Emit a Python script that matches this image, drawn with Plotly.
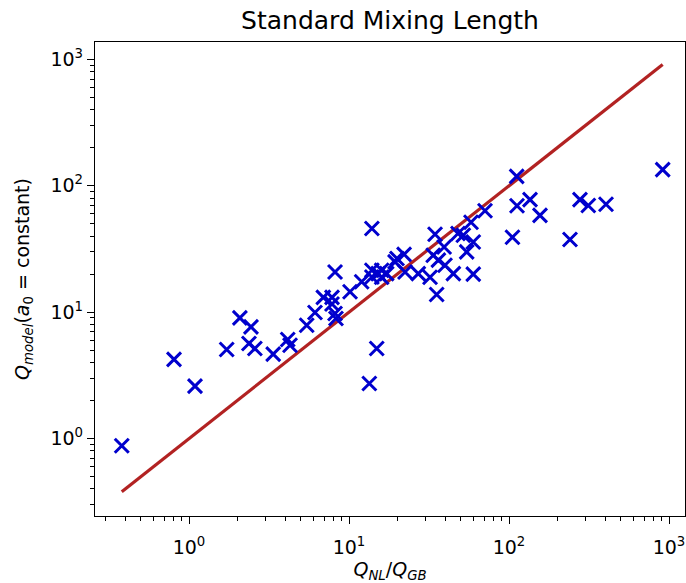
import plotly.graph_objects as go

# Q_NL / Q_GB (x) and Q_model (y)
q_nl = [0.380, 0.806, 1.09, 1.72, 2.08, 2.44, 2.37, 2.58, 3.36, 4.14,
        4.28, 5.44, 6.13, 6.91, 7.83, 7.83, 8.18, 8.29, 8.18, 10.15,
        12.0, 13.9, 13.9, 13.9, 15.2, 16.0, 17.2, 16.0, 19.4, 22.1,
        22.4, 27.1, 32.1, 33.6, 34.5, 36.2, 35.3, 39.3, 39.8, 44.9,
        48.0, 51.8, 54.4, 57.9, 59.8, 59.8, 70.8, 14.9, 13.4, 111.7,
        913.0, 112.2, 135.3, 156.2, 105.1, 240.5, 277.7, 313.1, 403.9, 19.95]
q_model = [0.877, 4.23, 2.60, 5.07, 9.02, 7.65, 5.66, 5.16, 4.66, 6.08,
           5.48, 7.89, 9.95, 13.1, 13.1, 11.6, 9.77, 8.92, 20.8, 14.5,
           17.4, 45.9, 19.0, 21.5, 20.2, 21.5, 20.2, 18.9, 25.0, 28.7,
           20.8, 20.2, 18.9, 28.2, 41.4, 25.8, 13.8, 32.8, 23.5, 20.2,
           41.9, 40.6, 30.0, 51.5, 35.9, 20.0, 63.5, 5.16, 2.73, 118.9,
           134.3, 69.5, 77.8, 58.4, 39.2, 37.6, 77.8, 69.8, 71.4, 26.6]

major_vals = [1, 10, 100, 1000]
major_text = ["10<sup>0</sup>", "10<sup>1</sup>", "10<sup>2</sup>", "10<sup>3</sup>"]
minor_vals = [m * d for d in [0.1, 1, 10, 100, 1000] for m in range(2, 10)]

# one-to-one line spanning the data's x extent
line_x = [min(q_nl), max(q_nl)]
line_y = line_x

FONT = "DejaVu Sans"

fig = go.Figure()
fig.add_trace(go.Scatter(
    x=line_x, y=line_y, mode="lines",
    line=dict(color="#B22222", width=3.2), showlegend=False, hoverinfo="skip"))
fig.add_trace(go.Scatter(
    x=q_nl, y=q_model, mode="markers",
    marker=dict(symbol="x-thin", size=14, line=dict(color="#0000CD", width=3), color="#0000CD"),
    showlegend=False))

axis_common = dict(
    type="log", showgrid=False, zeroline=False, automargin=False,
    showline=True, linecolor="black", linewidth=1.3, mirror=True,
    ticks="outside", ticklen=7, tickwidth=1.3, tickcolor="black",
    tickvals=major_vals, ticktext=major_text,
    tickfont=dict(family=FONT, size=19, color="black"),
    minor=dict(ticks="outside", ticklen=4, tickwidth=1, tickcolor="black",
               tickvals=minor_vals, showgrid=False),
)

fig.update_layout(
    width=686, height=583,
    margin=dict(l=95, r=1, t=42, b=67),
    paper_bgcolor="white", plot_bgcolor="white",
    font=dict(family=FONT, color="black"),
    title=dict(text="Standard Mixing Length", x=0.5, xref="paper", xanchor="center",
               y=1 - 20 / 583, yref="container", yanchor="middle", automargin=False,
               font=dict(family=FONT, size=25, color="black")),
    xaxis=dict(axis_common, range=[-0.5875, 3.1], ticklabelstandoff=7,
               title=dict(text="<i>Q</i><sub><i>NL</i></sub>/<i>Q</i><sub><i>GB</i></sub>",
                          font=dict(family=FONT, size=19), standoff=2)),
    yaxis=dict(axis_common, range=[-0.6126, 3.138],
               title=dict(text="<i>Q</i><sub><i>model</i></sub>(<i>a</i><sub>0</sub> = constant)",
                          font=dict(family=FONT, size=19), standoff=15)),
)

fig.write_html("out.html", config={"displayModeBar": False},
               post_script="document.body.style.margin='0';document.body.style.overflow='hidden';")
